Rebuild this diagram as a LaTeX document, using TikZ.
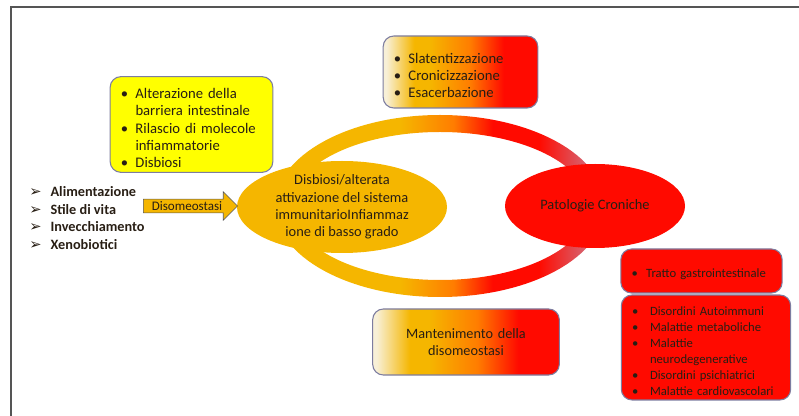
\documentclass[tikz,border=0pt]{standalone}
\usepackage{fontspec}
\setmainfont{Carlito}
\newfontfamily\symfont{DejaVu Sans}
\usetikzlibrary{shapes.geometric, shapes.arrows}
\definecolor{frameGray}{RGB}{85, 85, 85}
\definecolor{boxEdge}{RGB}{125, 125, 160}
\definecolor{hiYellow}{RGB}{255, 255, 0}
\definecolor{warmGold}{RGB}{245, 182, 0}
\definecolor{midOrange}{RGB}{255, 125, 0}
\definecolor{hotRed}{RGB}{255, 10, 0}
\definecolor{dustyPink}{RGB}{210, 110, 125}
\definecolor{paleCream}{RGB}{248, 240, 215}
\definecolor{darkText}{RGB}{40, 30, 20}
\pgfdeclarehorizontalshading{ringfade}{100bp}{color(0bp)=(warmGold); color(44bp)=(warmGold);
  color(52bp)=(midOrange); color(58bp)=(hotRed); color(65bp)=(hotRed);
  color(73bp)=(dustyPink); color(100bp)=(dustyPink)}
\pgfdeclarehorizontalshading{boxfade}{100bp}{color(0bp)=(paleCream); color(26bp)=(paleCream);
  color(35bp)=(warmGold); color(40bp)=(warmGold); color(53bp)=(midOrange);
  color(64bp)=(hotRed); color(100bp)=(hotRed)}
\newcommand{\boxitem}[2][11pt]{\par\hangindent=#1\hangafter=1\noindent\makebox[#1][l]{\textbullet}#2}
\newcommand{\causeitem}[1]{\makebox[16pt][l]{\symfont\fontsize{11}{13}\selectfont ➢}\textbf{#1}}
\newcommand{\nohyph}{\hyphenpenalty=10000\exhyphenpenalty=10000}

\begin{document}
\begin{tikzpicture}[x=0.75pt, y=-0.75pt,
    listbox/.style={rounded corners=8pt, draw=boxEdge, thick, align=left,
      text=darkText, inner xsep=8pt, font=\fontsize{11}{13}\selectfont\nohyph},
    redbox/.style={listbox, fill=hotRed, font=\fontsize{9.5}{12}\selectfont\nohyph},
    fadebox/.style={listbox, shading=boxfade}]
  \useasboundingbox (0,0) rectangle (799,416);
  \draw[frameGray, line width=1.1pt] (11,416) -- (11,7) -- (799,7);

  % the cycle
  \shade[shading=ringfade, even odd rule]
    (440,206) ellipse [x radius=165, y radius=91]
    (440,206) ellipse [x radius=149, y radius=74];

  \node[ellipse, fill=warmGold, inner sep=-2pt, minimum width=157.5pt, minimum height=69pt,
    align=center, text=darkText, font=\fontsize{10.8}{13}\selectfont]
    (disbiosi) at (342,207) {Disbiosi/alterata\\attivazione del sistema\\immunitarioInfiammaz\\ione di basso grado};
  \node[ellipse, fill=hotRed, inner sep=0pt, minimum width=135pt, minimum height=63pt,
    text=darkText, font=\fontsize{10.8}{12}\selectfont]
    (patologie) at (595,206) {Patologie Croniche};

  \node[listbox, fill=hiYellow, text width=106pt, minimum height=68pt]
    (barriera) at (191.5,124.5) {\boxitem{Alterazione della barriera intestinale}
      \boxitem{Rilascio di molecole infiammatorie}\boxitem{Disbiosi}};
  \node[fadebox, text width=100pt, minimum height=54pt]
    (esito) at (460.5,72) {\boxitem{Slatentizzazione}\boxitem{Cronicizzazione}\boxitem{Esacerbazione}};
  \node[fadebox, align=center, text width=124pt, minimum height=49.5pt,
    font=\fontsize{10.7}{13}\selectfont]
    (mantenimento) at (466,342) {Mantenimento della\\disomeostasi};
  \node[redbox, text width=105pt, minimum height=33pt]
    (tratto) at (701.5,271) {\boxitem{Tratto gastrointestinale}};
  \node[redbox, text width=111pt, minimum height=68pt]
    (disordini) at (706,347.5) {\boxitem[13.5pt]{Disordini Autoimmuni}
      \boxitem[13.5pt]{Malattie metaboliche}\boxitem[13.5pt]{Malattie neurodegenerative}
      \boxitem[13.5pt]{Disordini psichiatrici}\boxitem[13.5pt]{Malattie cardiovascolari}};

  \node[anchor=west, align=left, inner sep=0pt, text=darkText,
    font=\fontsize{10.7}{13.3}\selectfont]
    (cause) at (29,218) {\causeitem{Alimentazione}\\\causeitem{Stile di vita}\\
      \causeitem{Invecchiamento}\\\causeitem{Xenobiotici}};
  \node[single arrow, fill=warmGold, draw=frameGray, thin, inner sep=1.5pt,
    single arrow head extend=5.5pt, minimum height=70.5pt, text=darkText,
    font=\fontsize{9.8}{10}\selectfont]
    (disomeostasi) at (187,206) {Disomeostasi};
\end{tikzpicture}
\end{document}
